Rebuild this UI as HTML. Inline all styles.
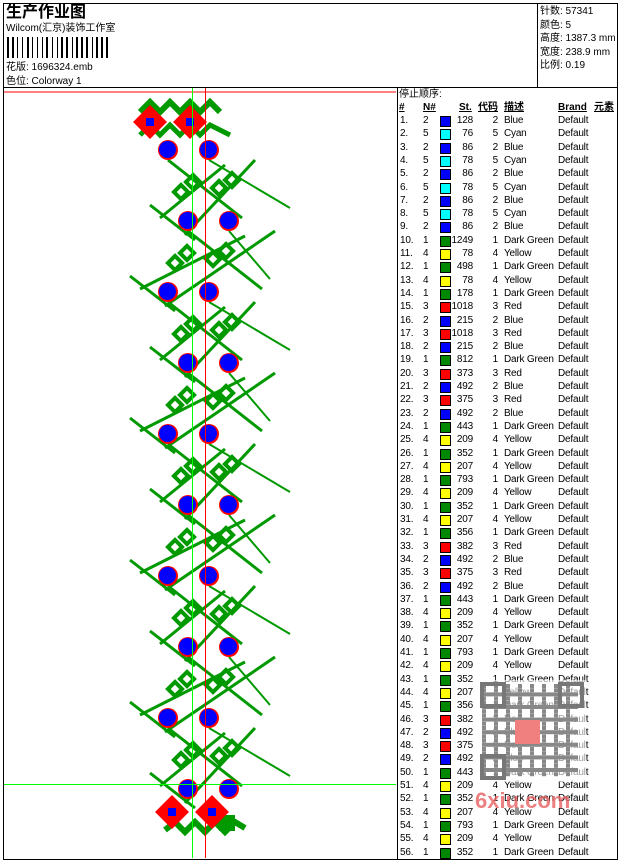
<!DOCTYPE html>
<html><head><meta charset="utf-8"><style>
body{margin:0;background:#fff;width:620px;height:861px;overflow:hidden;font-family:"Liberation Sans","Noto Sans CJK SC",sans-serif;}
#b{position:absolute;left:3px;top:3px;width:613px;height:855px;border:1px solid #000;}
.t{position:absolute;font-size:10px;line-height:12px;white-space:nowrap;color:#000;}
#rows .t{letter-spacing:-0.2px}
</style></head><body>
<div id="b"></div>
<div style="position:absolute;left:4px;top:87px;width:613px;height:1px;background:#000"></div>
<div style="position:absolute;left:537px;top:4px;width:1px;height:83px;background:#000"></div>
<div style="position:absolute;left:397px;top:87px;width:1px;height:772px;background:#000"></div>
<div class="t" style="left:6px;top:4px;font-size:16px;line-height:18px;font-weight:bold">生产作业图</div>
<div class="t" style="left:6px;top:23px">Wilcom(汇京)装饰工作室</div>
<div id="bar" style="position:absolute;left:7px;top:37px;width:133px;height:21px"></div>
<div class="t" style="left:6px;top:62px">花版: 1696324.emb</div>
<div class="t" style="left:6px;top:76px">色位: Colorway 1</div>
<div class="t" style="left:540px;top:6px">针数: 57341</div>
<div class="t" style="left:540px;top:20px">颜色: 5</div>
<div class="t" style="left:540px;top:33px">高度: 1387.3 mm</div>
<div class="t" style="left:540px;top:47px">宽度: 238.9 mm</div>
<div class="t" style="left:540px;top:60px">比例: 0.19</div>
<div class="t" style="left:399px;top:89px">停止顺序:</div>
<div class="t" style="left:399px;top:102px;font-weight:bold;text-decoration:underline">#</div>
<div class="t" style="left:423px;top:102px;font-weight:bold;text-decoration:underline">N#</div>
<div class="t" style="left:459px;top:102px;font-weight:bold;text-decoration:underline">St.</div>
<div class="t" style="left:478px;top:102px;font-weight:bold;text-decoration:underline">代码</div>
<div class="t" style="left:504px;top:102px;font-weight:bold;text-decoration:underline">描述</div>
<div class="t" style="left:558px;top:102px;font-weight:bold;text-decoration:underline">Brand</div>
<div class="t" style="left:594px;top:102px;font-weight:bold;text-decoration:underline">元素</div>
<div id="rows"></div>
<svg id="s" width="620" height="861" style="position:absolute;left:0;top:0"></svg>
<script>
var bar=document.getElementById('bar'),x=0,w=[2,1,2,1,1,2,1,2,2,1,1,2,1,2,1,1,2,2,1,2,1,1,2,1,2,2,1,1,2,1,2,1,2,2,1,1,2,1,2,1,2,1];
var h='';for(var i=0;i<w.length;i++){if(i%2==0)h+='<div style="position:absolute;left:'+x+'px;top:0;width:'+w[i]+'px;height:21px;background:#000"></div>';x+=w[i]+1;}bar.innerHTML=h;
var C={1:['#008800','Dark Green'],2:['#0000ff','Blue'],3:['#ff0000','Red'],4:['#ffff00','Yellow'],5:['#00ffff','Cyan']};
var d=[[2,128],[5,76],[2,86],[5,78],[2,86],[5,78],[2,86],[5,78],[2,86],[1,1249],[4,78],[1,498],[4,78],[1,178],[3,1018],[2,215],[3,1018],[2,215],[1,812],[3,373],[2,492],[3,375],[2,492],[1,443],[4,209],[1,352],[4,207],[1,793],[4,209],[1,352],[4,207],[1,356],[3,382],[2,492],[3,375],[2,492],[1,443],[4,209],[1,352],[4,207],[1,793],[4,209],[1,352],[4,207],[1,356],[3,382],[2,492],[3,375],[2,492],[1,443],[4,209],[1,352],[4,207],[1,793],[4,209],[1,352]];
h='';for(i=0;i<d.length;i++){var y=115+i*13.3,c=C[d[i][0]];
h+='<div class="t" style="left:400px;top:'+y+'px">'+(i+1)+'.</div><div class="t" style="left:423px;top:'+y+'px">'+d[i][0]+'</div>'+
'<div style="position:absolute;left:440px;top:'+(y+1)+'px;width:9px;height:9px;border:1px solid #000;background:'+c[0]+'"></div>'+
'<div class="t" style="left:450px;width:23px;text-align:right;top:'+y+'px">'+d[i][1]+'</div><div class="t" style="left:490px;width:8px;text-align:right;top:'+y+'px">'+d[i][0]+'</div>'+
'<div class="t" style="left:504px;top:'+y+'px">'+c[1]+'</div><div class="t" style="left:558px;top:'+y+'px">Default</div>';}
document.getElementById('rows').innerHTML=h;
var s='',G='#009900';
function L(a,b,c,e,wd){s+='<line x1="'+a+'" y1="'+b+'" x2="'+c+'" y2="'+e+'" stroke="'+G+'" stroke-width="'+(wd||3)+'"/>';}
function D(a,b){s+='<rect x="'+(a-5)+'" y="'+(b-5)+'" width="10" height="10" fill="none" stroke="'+G+'" stroke-width="4" transform="rotate(45 '+a+' '+b+')"/>';}
function O(a,b){s+='<circle cx="'+a+'" cy="'+b+'" r="10" fill="#ff0000"/><circle cx="'+(a-0.5)+'" cy="'+(b-0.5)+'" r="8.5" fill="#0000ff"/>';}
for(var k=0;k<10;k++){var y0=150+k*71,o=k%2?20:0;
 if(k<9){var o2=o?0:20;
  L(168+o,y0+10,262-o2,y0+68);L(209+o,y0+10,270+o2,y0+58,2);
  L(140+o2,y0+68,225+o,y0+15);L(165+o2,y0+85,255+o,y0+10);
  L(130+o2,y0+55,175+o2,y0+90);
  D(175+o2*0.3,y0+42);D(187+o2*0.3,y0+32);D(213+o2*0.3,y0+38);D(226+o2*0.3,y0+30);}
 O(168+o,y0);O(209+o,y0);}
s+='<path d="M140 112 L150 102 L160 112 L170 102 L180 112 L190 102 L200 112 L210 102 L220 112" fill="none" stroke="'+G+'" stroke-width="6"/>';
s+='<path d="M140 135 L150 125 L160 135 L170 125 L180 135 L190 125 L200 135 L210 125 L230 135" fill="none" stroke="'+G+'" stroke-width="5"/>';
s+='<rect x="138" y="110" width="24" height="24" fill="#ff0000" transform="rotate(45 150 122)"/><rect x="146" y="118" width="8" height="8" fill="#0000ff"/>';
s+='<rect x="178" y="110" width="24" height="24" fill="#ff0000" transform="rotate(45 190 122)"/><rect x="186" y="118" width="8" height="8" fill="#0000ff"/>';
s+='<path d="M165 830 L175 822 L185 832 L195 822 L205 832 L215 822 L225 832 L235 822 L245 828" fill="none" stroke="'+G+'" stroke-width="6"/>';
s+='<rect x="219" y="815" width="16" height="16" fill="'+G+'"/>';
s+='<rect x="160" y="800" width="24" height="24" fill="#ff0000" transform="rotate(45 172 812)"/><rect x="168" y="808" width="8" height="8" fill="#0000ff"/>';
s+='<rect x="200" y="800" width="24" height="24" fill="#ff0000" transform="rotate(45 212 812)"/><rect x="208" y="808" width="8" height="8" fill="#0000ff"/>';
s+='<line x1="4" y1="92" x2="396" y2="92" stroke="#ff0000"/><line x1="205.5" y1="88" x2="205.5" y2="858" stroke="#ff0000"/>';
s+='<line x1="192.5" y1="88" x2="192.5" y2="858" stroke="#00ff00"/><line x1="4" y1="784.5" x2="396" y2="784.5" stroke="#00ff00"/>';
s+='<rect x="478" y="680" width="108" height="102" fill="#fff" opacity="0.6"/>';
for(var a=0;a<24;a++)for(var b=0;b<22;b++)if((a*7+b*3+a*b)%3==0) s+='<rect x="'+(482+a*4)+'" y="'+(684+b*4.2)+'" width="4" height="4" fill="#888"/>';
s+='<rect x="482" y="684" width="22" height="22" fill="none" stroke="#777" stroke-width="4"/><rect x="560" y="684" width="22" height="22" fill="none" stroke="#777" stroke-width="4"/><rect x="482" y="756" width="22" height="22" fill="none" stroke="#777" stroke-width="4"/>';
s+='<rect x="515" y="720" width="25" height="24" fill="#f08080"/>';
s+='<text x="475" y="808" font-family="Liberation Sans" font-weight="bold" font-size="22" fill="#e86060" opacity="0.8">6xiu.com</text>';
document.getElementById('s').innerHTML=s;
</script>
</body></html>
